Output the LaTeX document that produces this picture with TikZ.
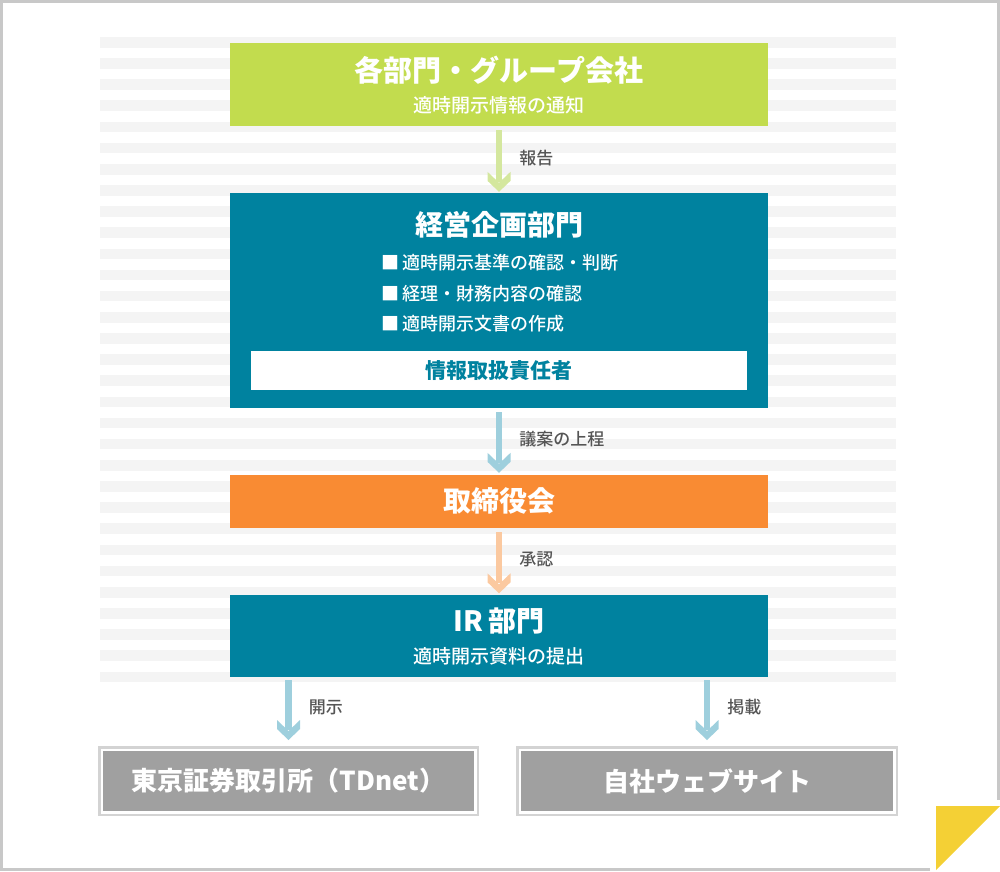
\documentclass[tikz,border=0pt]{standalone}
\usepackage{fontspec}
\setmainfont{Noto Sans CJK JP}[FontFace={mb}{n}{Font=Noto Sans CJK JP Medium}]
\usetikzlibrary{arrows.meta}

\definecolor{framegray}{HTML}{C8C8C8}
\definecolor{stripegray}{HTML}{F4F4F4}
\definecolor{boxgreen}{HTML}{C2DC4E}
\definecolor{boxteal}{HTML}{00829F}
\definecolor{boxorange}{HTML}{F98B33}
\definecolor{boxgray}{HTML}{A0A0A0}
\definecolor{boxgrayline}{HTML}{D3D3D3}
\definecolor{arrgreen}{HTML}{D4E79E}
\definecolor{arrblue}{HTML}{9ECFDD}
\definecolor{arrpeach}{HTML}{FBC9A0}
\definecolor{labelgray}{HTML}{555555}
\definecolor{cornery}{HTML}{F4D035}

\newcommand{\medw}{\fontseries{mb}\selectfont}

\pgfdeclarearrow{
  name=Chev,
  setup code={
    \pgfarrowssettipend{0pt}
    \pgfarrowssetlineend{-10pt}
    \pgfarrowssetbackend{-20pt}
    \pgfarrowsupperhullpoint{0pt}{0pt}
    \pgfarrowsupperhullpoint{-11pt}{11.5pt}
    \pgfarrowsupperhullpoint{-20pt}{11.5pt}
  },
  drawing code={
    \pgfpathmoveto{\pgfpoint{0pt}{0pt}}
    \pgfpathlineto{\pgfpoint{-11pt}{11.5pt}}
    \pgfpathlineto{\pgfpoint{-20pt}{11.5pt}}
    \pgfpathlineto{\pgfpoint{-9pt}{0pt}}
    \pgfpathlineto{\pgfpoint{-20pt}{-11.5pt}}
    \pgfpathlineto{\pgfpoint{-11pt}{-11.5pt}}
    \pgfpathclose
    \pgfusepathqfill
  }
}

\tikzset{
  box/.style={rectangle, inner sep=0pt, minimum width=538pt},
  titletext/.style={inner sep=0pt, text=white, font=\fontsize{28}{32}\selectfont\bfseries},
  subtext/.style={inner sep=0pt, text=white, font=\fontsize{19}{22}\selectfont\medw},
  bullettext/.style={inner sep=0pt, anchor=west, text=white, font=\fontsize{18}{21}\selectfont\medw},
  lbl/.style={inner sep=0pt, anchor=west, xshift=17pt, text=labelgray, font=\fontsize{17}{20}\selectfont\medw},
  flowarrow/.style={draw=#1, fill=#1, line width=6.5pt, -Chev},
  outerbox/.style={rectangle, inner sep=0pt, draw=boxgrayline, line width=2.5pt, fill=white},
  innerbox/.style={rectangle, inner sep=0pt, fill=boxgray, text=white, font=\fontsize{26}{30}\selectfont\bfseries},
}

\begin{document}
\begin{tikzpicture}[x=1pt,y=-1pt]
\useasboundingbox (0,0) rectangle (1000,871);

% background stripes
\foreach \k in {0,...,30}{
  \fill[stripegray] (99.5,{37+21.15*\k}) rectangle (896,{47.6+21.15*\k});
}

% frame and corner
\draw[framegray, line width=3pt] (930,869) -- (1.5,869) -- (1.5,1.5) -- (998.5,1.5) -- (998.5,800);
\fill[cornery] (936,806) -- (1000,806) -- (936,870) -- cycle;

% box 1
\node[box, fill=boxgreen, minimum height=83pt] (grp) at (499,84.5) {};
\node[titletext, font=\fontsize{29}{33}\selectfont\bfseries] (grpT) at (499,70) {各部門・グループ会社};
\node[subtext] (grpS) at (499,105) {適時開示情報の通知};

% box 2
\node[box, fill=boxteal, minimum height=215pt] (plan) at (499,300.5) {};
\node[titletext] (planT) at (499,225) {経営企画部門};
\node[bullettext] (b1) at (381,263) {■\hspace{3pt}適時開示基準の確認・判断};
\node[bullettext] (b2) at (381,294) {■\hspace{3pt}経理・財務内容の確認};
\node[bullettext] (b3) at (381,324) {■\hspace{3pt}適時開示文書の作成};
\node[rectangle, inner sep=0pt, fill=white, minimum width=496pt, minimum height=39pt,
      text=boxteal, font=\fontsize{21}{24}\selectfont\bfseries] (resp) at (499,370.5) {情報取扱責任者};

% box 3
\node[box, fill=boxorange, minimum height=53pt] (board) at (499,501.5) {};
\node[titletext] (boardT) at (499,501) {取締役会};

% box 4
\node[box, fill=boxteal, minimum height=82pt] (ir) at (499,636) {};
\node[titletext] (irT) at (499,621) {IR\hspace{5pt}部門};
\node[subtext] (irS) at (499,656.5) {適時開示資料の提出};

% bottom boxes
\node[outerbox, minimum width=378.5pt, minimum height=67.5pt] (tse) at (288.5,781) {};
\node[innerbox, minimum width=371pt, minimum height=60pt] (tseI) at (288.5,781) {東京証券取引所（TDnet）};
\node[outerbox, minimum width=379.5pt, minimum height=67.5pt] (web) at (707,781) {};
\node[innerbox, minimum width=372pt, minimum height=60pt] (webI) at (707,781) {自社ウェブサイト};

% arrows
\draw[flowarrow=arrgreen] ([yshift=-4pt]grp.south) -- node[lbl, pos=0.45] (l1) {報告} ([yshift=1pt]plan.north);
\draw[flowarrow=arrblue] ([yshift=-4pt]plan.south) -- node[lbl, pos=0.45] (l2) {議案の上程} ([yshift=2pt]board.north);
\draw[flowarrow=arrpeach] ([yshift=-4pt]board.south) -- node[lbl, pos=0.45] (l3) {承認} ([yshift=1.5pt]ir.north);
\draw[flowarrow=arrblue] ([yshift=-3pt]ir.south -| tse.north) -- node[lbl, pos=0.45] (l4) {開示} ([yshift=6pt]tse.north);
\draw[flowarrow=arrblue] ([yshift=-3pt]ir.south -| web.north) -- node[lbl, pos=0.45] (l5) {掲載} ([yshift=6pt]web.north);

\end{tikzpicture}
\end{document}
